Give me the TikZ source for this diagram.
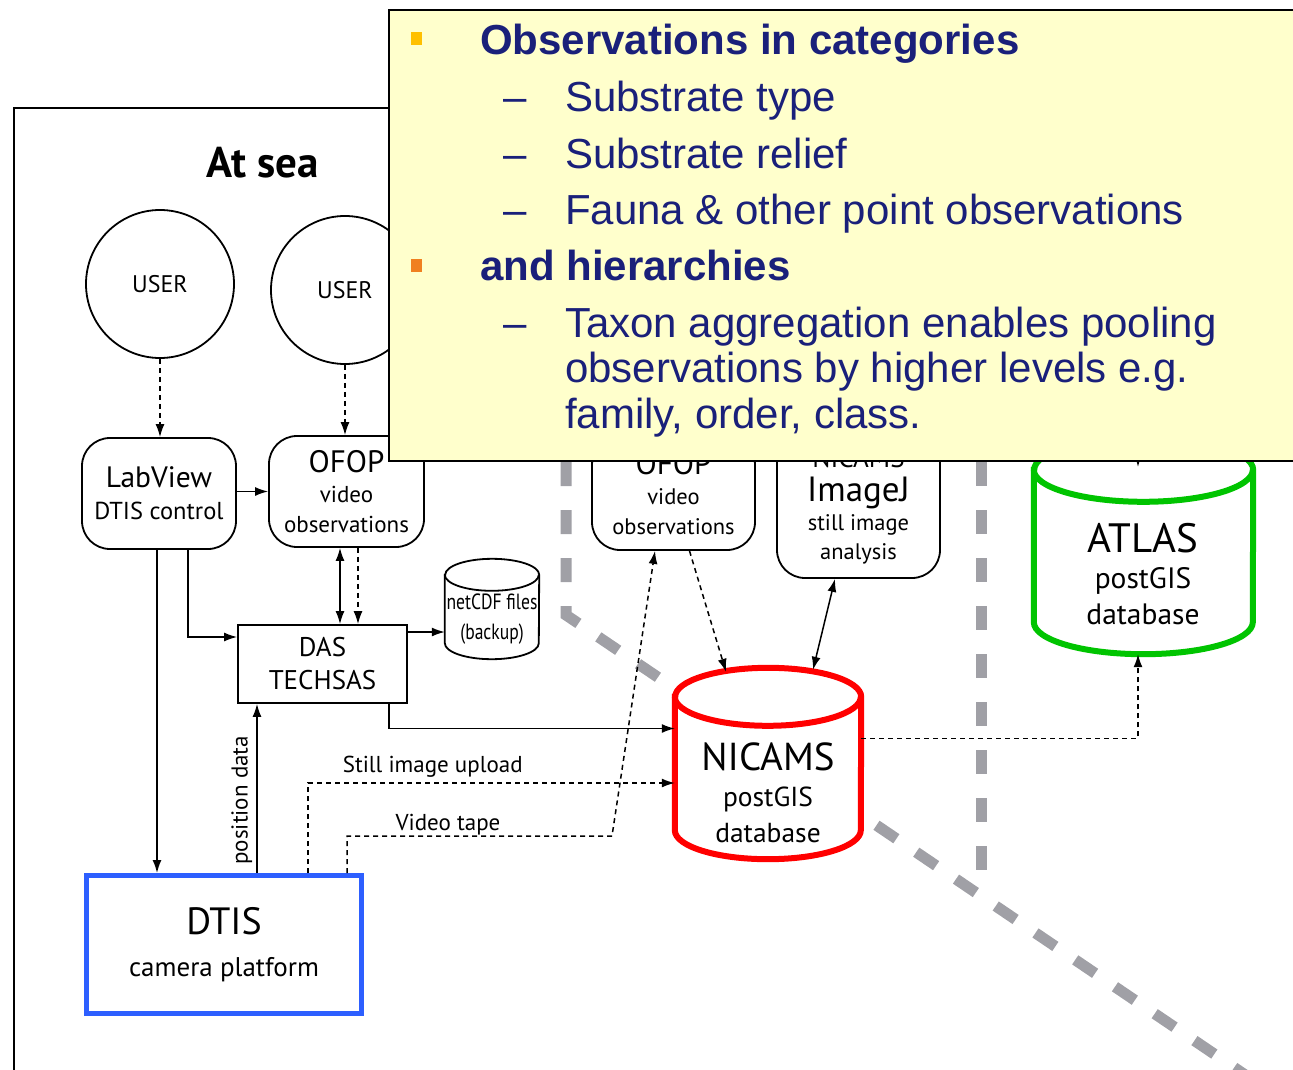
\documentclass[tikz,border=0pt]{standalone}
\usepackage{fontspec}
\setmainfont{PT Sans}
\newfontfamily\narrowfont[FakeStretch=0.8]{PT Sans}
\newfontfamily\slidefont{Liberation Sans}
\usetikzlibrary{arrows.meta,calc}
\definecolor{slidebg}{RGB}{255,255,204}
\definecolor{slideink}{RGB}{26,32,122}
\definecolor{seagrey}{RGB}{160,160,166}
\definecolor{nicred}{RGB}{255,0,0}
\definecolor{atlasgreen}{RGB}{0,196,0}
\definecolor{dtisblue}{RGB}{45,95,255}
\definecolor{bulletyellow}{RGB}{255,192,0}
\definecolor{bulletorange}{RGB}{240,128,32}
\newcommand{\fs}[2]{\fontsize{#1}{#2}\selectfont}
% database drum round a named node: style, node, x radius, y radius
\newcommand{\drum}[4]{%
  \draw[#1] ([yshift=-#4]#2.north west) -- ([yshift=#4]#2.south west)
    arc[start angle=180,end angle=360,x radius=#3,y radius=#4]
    -- ([yshift=-#4]#2.north east)
    arc[start angle=0,end angle=180,x radius=#3,y radius=#4] -- cycle;
  \draw[#1,fill=none] ([yshift=-#4]#2.north west)
    arc[start angle=180,end angle=360,x radius=#3,y radius=#4];}

\begin{document}
\begin{tikzpicture}[x=1pt,y=-1pt,
    >={Latex[length=13pt,width=9pt]},
    every node/.style={inner sep=0pt},
    conn/.style={line width=1.5pt},
    dsh/.style={conn,dash pattern=on 5pt off 4pt},
    user/.style={circle,draw,line width=1.8pt,minimum size=148pt,font=\fs{24}{26}},
    soft/.style={rectangle,draw,line width=1.8pt,rounded corners=28pt,fill=white,align=center},
    box/.style={rectangle,draw,line width=1.8pt,fill=white,align=center},
    dbbox/.style={rectangle},
    dbline/.style={draw,fill=white,line width=6pt},
    dbtext/.style={align=center},
    sep/.style={draw=seagrey,line width=11pt,dash pattern=on 24pt off 24pt},
    lbl/.style={font=\fs{23}{25}},
    point/.style={font=\slidefont\fs{42}{46},text=slideink,anchor=base west}]
    \useasboundingbox (0,0) rectangle (1293,1070);
    \clip (0,0) rectangle (1293,1070);

    % frame and separators
    \draw[line width=2pt] (14,1080) |- (400,108);
    \draw[sep] (566,462) -- (566,615) -- (1260,1085);
    \draw[sep] (981,462) -- (981,870);
    \node[font=\bfseries\fs{43}{46}] (atsea) at (263,163) {At sea};

    \node[user] (user1) at (160,284) {USER};
    \node[user] (user2) at (345,290) {USER};
    \node[soft,minimum width=154pt,minimum height=111pt,font=\fs{24.5}{32}] (labview) at (159,493.5)
        {{\fs{29.5}{32}LabView}\\DTIS control};
    \node[soft,minimum width=155pt,minimum height=111pt,font=\fs{23}{30}] (ofop1) at (346.5,491.5)
        {{\fs{31}{31}OFOP}\\video\\observations};
    \node[box,minimum width=169pt,minimum height=78pt,font=\fs{27}{33}] (das) at (322.5,664)
        {DAS\\TECHSAS};
    \node[dbbox,minimum width=94pt,minimum height=100pt] (cdf) at (492,609) {};
    \drum{dbline,line width=1.8pt}{cdf}{47pt}{16pt}
    \node[dbtext,font=\narrowfont\fs{22}{30}] (cdftxt) at (492,619) {netCDF files\\(backup)};
    \node[box,draw=dtisblue,line width=5pt,minimum width=275pt,minimum height=138pt,font=\fs{27}{42}] (dtis) at (224,944.5)
        {{\fs{38}{42}DTIS}\\camera platform};
    \node[soft,minimum width=163pt,minimum height=113pt,font=\fs{22.5}{30}] (ofop2) at (673.5,493.5)
        {{\fs{31}{31}OFOP}\\video\\observations};
    \node[soft,minimum width=163pt,minimum height=144pt,font=\fs{22.5}{29}] (imagej) at (858.5,506)
        {{\fs{27}{30}NICAMS}\\[5pt]{\fs{35}{32}ImageJ}\\still image\\analysis};
    \node[dbbox,minimum width=186pt,minimum height=191pt] (nic) at (768,763.5) {};
    \drum{dbline,draw=nicred}{nic}{93pt}{29pt}
    \node[dbtext,font=\fs{27.5}{36}] (nictxt) at (768,793) {{\fs{39}{42}NICAMS}\\postGIS\\database};
    \node[dbbox,minimum width=219pt,minimum height=216pt] (atlas) at (1143.5,546) {};
    \drum{dbline,draw=atlasgreen}{atlas}{109.5pt}{32pt}
    \node[dbtext,font=\fs{29.5}{36}] (atlastxt) at (1143,574) {{\fs{41}{41}ATLAS}\\postGIS\\database};

    % connectors
    \draw[dsh,->] (user1.south) -- (user1.south |- labview.north);
    \draw[dsh,->] (user2.south) -- (user2.south |- ofop1.north);
    \draw[conn,->] ([yshift=2pt]labview.east) -- ([yshift=2pt]labview.east -| ofop1.west);
    \draw[conn,->] ([xshift=-2pt]labview.south) -- ([xshift=-2pt]labview.south |- dtis.north);
    \draw[conn,->] ([xshift=29pt]labview.south) |- ([yshift=27pt]das.west);
    \draw[conn,<->] ([xshift=-6.5pt]ofop1.south) -- ([xshift=-6.5pt]ofop1.south |- das.north);
    \draw[dsh,->] ([xshift=11.5pt]ofop1.south) -- ([xshift=11.5pt]ofop1.south |- das.north);
    \draw[conn,->] ([yshift=32pt]das.east) -- ([yshift=32pt]das.east -| cdf.west);
    \draw[conn,->] ([xshift=66.5pt]das.south) |- ([yshift=35pt]nic.west);
    \draw[conn,->] ([xshift=33pt]dtis.north) -- ([xshift=33pt]dtis.north |- das.south)
        node[lbl,pos=0.43,rotate=90,anchor=south,yshift=4pt] {position data};
    \draw[dsh,->] ([xshift=84pt]dtis.north) |- ([yshift=-19.5pt]nic.west)
        node[lbl,pos=0.67,above=5pt] {Still image upload};
    \coordinate (tape) at (612,836);
    \draw[dsh,->] ([xshift=123pt]dtis.north) |- (tape) -- ([xshift=-18.5pt]ofop2.south);
    \node[lbl,anchor=base] (tapelbl) at (448,830) {Video tape};
    \draw[dsh,->] ([xshift=16pt]ofop2.south) -- ([xshift=-42pt,yshift=-4pt]nic.north);
    \draw[conn,<->] ([xshift=-23.5pt]imagej.south) -- ([xshift=45pt,yshift=-2pt]nic.north);
    \draw[dsh,->] ([yshift=25pt]nic.east) -| ([xshift=-5.5pt]atlas.south);
    \coordinate (above) at (1138,380);
    \draw[conn,->] (above) -- (1138,467);

    % slide overlay
    \node[draw,line width=2pt,fill=slidebg,minimum width=920pt,minimum height=451pt,anchor=north west] (slide) at (388,9) {};
    \node[fill=bulletyellow,minimum width=11pt,minimum height=13pt] (b1) at (416,39) {};
    \node[fill=bulletorange,minimum width=11pt,minimum height=13pt] (b2) at (416,265) {};
    \node[point,font=\slidefont\bfseries\fs{42}{46}] (obs) at (480,55) {Observations in categories};
    \node[point,font=\slidefont\bfseries\fs{42}{46}] (hier) at (480,280) {and hierarchies};
    \foreach \y/\txt in {112/Substrate type,168/Substrate relief,224/Fauna \& other point observations,337/Taxon aggregation enables pooling}{
        \node[point] at (503,\y) {\textendash};
        \node[point] at (565,\y) {\txt};
    }
    \node[point] (taxon2) at (565,382) {observations by higher levels e.g.};
    \node[point] (taxon3) at (565,428) {family, order, class.};
\end{tikzpicture}
\end{document}
